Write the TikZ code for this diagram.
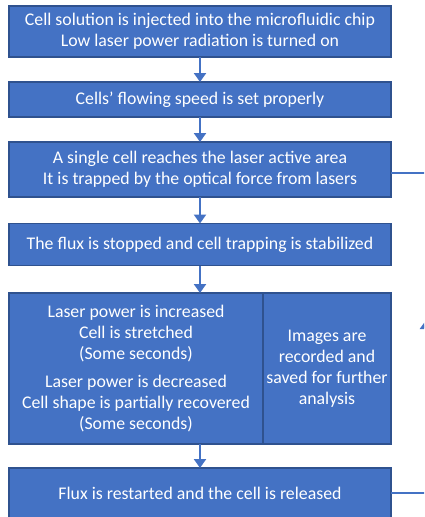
\documentclass[tikz,border=0pt]{standalone}
\usepackage{fontspec}
\setmainfont{Carlito}
\usetikzlibrary{arrows.meta}
\definecolor{boxfill}{HTML}{4472C4}
\definecolor{boxline}{HTML}{2F528F}
\definecolor{flowline}{HTML}{4472C4}
\begin{document}
\begin{tikzpicture}[x=1pt,y=-1pt,
  stepbox/.style={draw=boxline, line width=1.4pt, fill=boxfill, text=white,
    align=center, inner sep=0pt, outer sep=0pt,
    font=\fontsize{17.8}{21}\selectfont},
  conn/.style={draw=flowline, line width=2.4pt,
    -{Triangle[width=12pt,length=9pt]}},
  plainconn/.style={draw=flowline, line width=2.4pt}]
\useasboundingbox (0,0) rectangle (424,517);
\clip (0,0) rectangle (424,517);

% process steps
\node[stepbox, minimum width=382, minimum height=51] (b1) at (200,31.5)
  {Cell solution is injected into the microfluidic chip\\Low laser power radiation is turned on};
\node[stepbox, minimum width=382, minimum height=35] (b2) at (200,99.5)
  {Cells’ flowing speed is set properly};
\node[stepbox, minimum width=382, minimum height=55] (b3) at (200,169.5)
  {A single cell reaches the laser active area\\It is trapped by the optical force from lasers};
\node[stepbox, minimum width=382, minimum height=42] (b4) at (200,244.5)
  {The flux is stopped and cell trapping is stabilized};
\node[stepbox, minimum width=254, minimum height=151] (b5a) at (136,368.5)
  {Laser power is increased\\Cell is stretched\\(Some seconds)\\[7pt]
   Laser power is decreased\\Cell shape is partially recovered\\(Some seconds)};
\node[stepbox, minimum width=128, minimum height=151] (b5b) at (327,368.5)
  {Images are\\recorded and\\saved for further\\analysis};
\node[stepbox, minimum width=382, minimum height=50] (b6) at (200,493)
  {Flux is restarted and the cell is released};

% downward flow
\draw[conn] (b1.south) -- (b2.north);
\draw[conn] (b2.south) -- (b3.north);
\draw[conn] (b3.south) -- (b4.north);
\draw[conn] (b4.south) -- (b5a.north -| b4.south);
\draw[conn] (b5a.south -| b4.south) -- (b6.north);

% return loop on the right
\coordinate (loopB) at (426,493);
\coordinate (loopT) at (426,173);
\coordinate (loopA) at (426,329);
\draw[plainconn] (b6.east) -- (loopB) -- (loopT) -- (b3.east |- loopT);
\draw[conn] (loopA) -- ++(0,-9);
\end{tikzpicture}
\end{document}
